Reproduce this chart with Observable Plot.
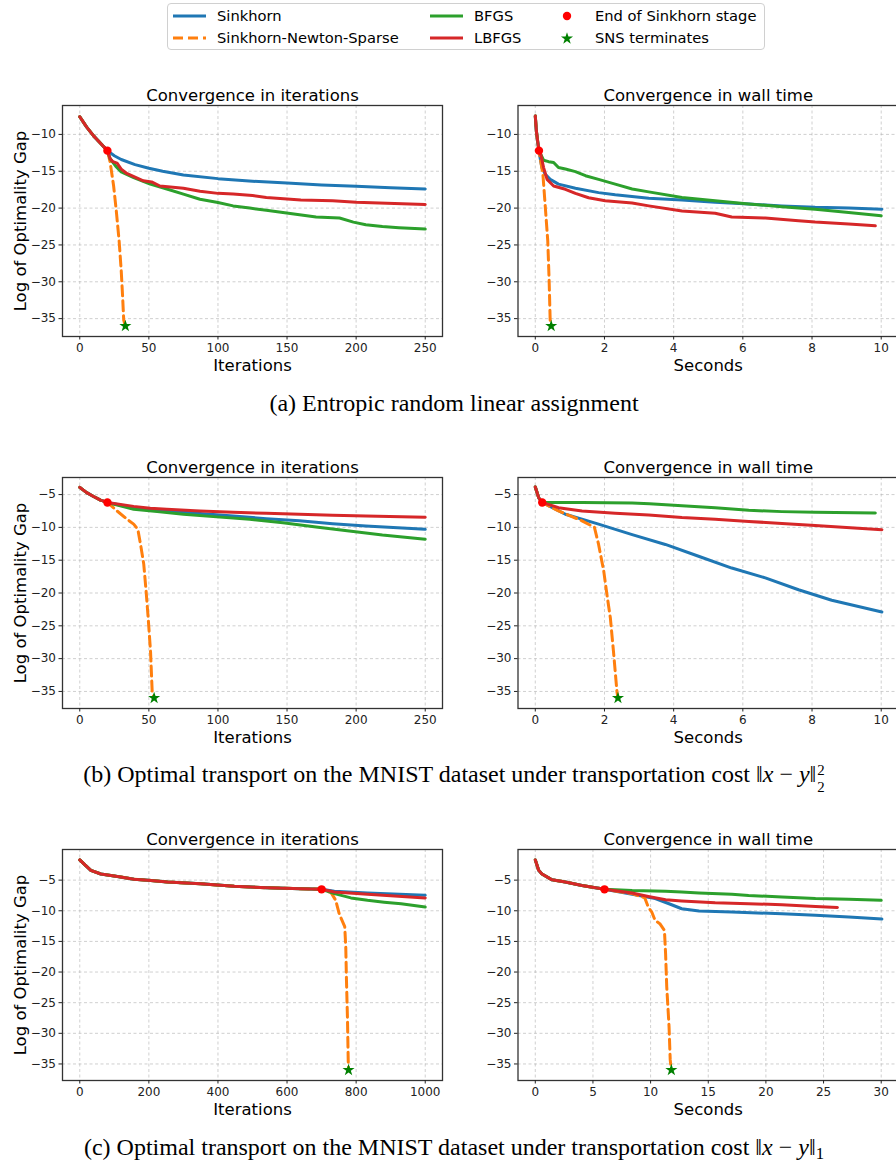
<!DOCTYPE html>
<html><head><meta charset="utf-8">
<script src="https://cdn.jsdelivr.net/npm/d3@7"></script>
<script src="https://cdn.jsdelivr.net/npm/@observablehq/plot@0.6"></script>
<style>
html,body{margin:0;padding:0;background:#fff;}
#page{position:relative;width:896px;height:1168px;overflow:hidden;background:#fff;font-family:"DejaVu Sans",sans-serif;}
.panel{position:absolute;}
.panel svg{display:block;max-width:none;}
.cap{position:absolute;left:0;width:908px;text-align:center;font-family:"Liberation Serif","Times New Roman",serif;font-size:24px;line-height:24px;color:#000;white-space:nowrap;}
.ss{display:inline-flex;flex-direction:column;font-size:0.62em;line-height:1.12;vertical-align:0.45em;margin-left:1px;}
#legendbox{position:absolute;left:167px;top:3px;width:596px;height:45px;border:1px solid #d0d0d0;border-radius:4px;background:#fff;}
.li{position:absolute;font-size:14.7px;line-height:16px;color:#000;white-space:nowrap;}
.sw{position:absolute;}
</style></head>
<body><div id="page"><div id="legendbox"></div></div>
<script>
// ---------- categories / labels ----------
const methods = ["Sinkhorn", "Sinkhorn-Newton-Sparse", "BFGS", "LBFGS"];
const markerLabels = ["End of Sinkhorn stage", "SNS terminates"];
const panelTitles = ["Convergence in iterations", "Convergence in wall time"];
const xLabels = ["Iterations", "Seconds"];
const yLabel = "Log of Optimality Gap";
const captions = [
  "(a) Entropic random linear assignment",
  "(b) Optimal transport on the MNIST dataset under transportation cost ",
  "(c) Optimal transport on the MNIST dataset under transportation cost "
];

// ---------- tick values ----------
const xTicksIter250 = [0, 50, 100, 150, 200, 250];
const xTicksTime10 = [0, 2, 4, 6, 8, 10];
const xTicksIter1000 = [0, 200, 400, 600, 800, 1000];
const xTicksTime30 = [0, 5, 10, 15, 20, 25, 30];
const yTicksA = [-10, -15, -20, -25, -30, -35];
const yTicksBC = [-5, -10, -15, -20, -25, -30, -35];

// ---------- (a) entropic random linear assignment, iterations ----------
const aIterStage = [[0,-7.6],[5,-9.0],[10,-10.2],[15,-11.2],[20,-12.2]];
const aIterSinkhorn = [[20,-12.2],[25,-12.9],[30,-13.4],[40,-14.1],[50,-14.6],[60,-15.0],[75,-15.5],[100,-16.0],[125,-16.35],[150,-16.6],[175,-16.85],[200,-17.05],[225,-17.25],[250,-17.4]];
const aIterSNS = [[20,-12.2],[22,-13.8],[24.5,-17],[26.5,-20.5],[28.5,-24.5],[30,-28.5],[31,-32],[31.8,-35.2],[33,-36]];
const aIterBFGS = [[20,-12.2],[22,-13.3],[26,-14.3],[30,-15.1],[39,-15.85],[51,-16.75],[63,-17.4],[75,-18.1],[87,-18.8],[100,-19.25],[111,-19.7],[123,-20.0],[135,-20.3],[147,-20.6],[159,-20.9],[171,-21.2],[188,-21.35],[198,-21.9],[207,-22.25],[219,-22.5],[231,-22.65],[250,-22.85]];
const aIterLBFGS = [[20,-12.2],[22,-13.3],[24,-13.7],[27,-13.9],[30,-14.7],[34,-15.3],[40,-15.8],[46,-16.3],[52,-16.45],[58,-17.0],[75,-17.3],[87,-17.7],[100,-18.0],[111,-18.1],[125,-18.3],[135,-18.55],[160,-18.9],[183,-19.0],[200,-19.2],[250,-19.5]];
const aIterEnd = [20, -12.2];
const aIterStar = [33, -36];

// ---------- (a) wall time ----------
const aTimeStage = [[0,-7.5],[0.03,-9.5],[0.07,-11.0],[0.106,-12.2]];
const aTimeSinkhorn = [[0.106,-12.2],[0.12,-12.7],[0.19,-14.5],[0.29,-15.4],[0.43,-16.1],[0.67,-16.75],[1.16,-17.3],[1.83,-17.9],[2.31,-18.2],[3.28,-18.65],[4.24,-18.9],[5.2,-19.2],[6.17,-19.45],[7.13,-19.7],[8.09,-19.9],[9.06,-20.0],[10.02,-20.15]];
const aTimeSNS = [[0.106,-12.2],[0.22,-15.4],[0.29,-19.9],[0.36,-24.4],[0.40,-29.8],[0.43,-35.2],[0.46,-36]];
const aTimeBFGS = [[0.106,-12.2],[0.24,-13.5],[0.385,-13.7],[0.53,-13.8],[0.67,-14.5],[0.87,-14.7],[1.16,-15.05],[1.45,-15.6],[1.83,-16.1],[2.31,-16.75],[2.8,-17.4],[3.28,-17.8],[4.24,-18.55],[5.2,-19.0],[6.17,-19.45],[7.13,-19.8],[8.09,-20.15],[9.06,-20.6],[10.0,-21.05]];
const aTimeLBFGS = [[0.106,-12.2],[0.14,-12.3],[0.24,-14.5],[0.34,-16.1],[0.53,-17.0],[0.87,-17.45],[1.16,-18.0],[1.54,-18.6],[2.02,-19.0],[2.8,-19.3],[3.28,-19.7],[4.24,-20.4],[5.2,-20.7],[5.68,-21.2],[6.65,-21.35],[7.61,-21.7],[8.09,-21.9],[9.06,-22.15],[9.83,-22.4]];
const aTimeEnd = [0.106, -12.2];
const aTimeStar = [0.46, -36];

// ---------- (b) MNIST L2^2, iterations ----------
const bIterStage = [[0,-3.9],[5,-4.7],[10,-5.3],[15,-5.85],[20,-6.2]];
const bIterSinkhorn = [[20,-6.2],[39,-7.0],[63,-7.5],[87,-7.9],[111,-8.26],[135,-8.67],[159,-9.0],[183,-9.43],[207,-9.8],[250,-10.3]];
const bIterSNS = [[20,-6.2],[27,-7.5],[34.3,-8.77],[39,-9.5],[42,-10.3],[44,-12.6],[46.3,-15.6],[48,-19.7],[49.5,-23.8],[51.2,-28.9],[52.4,-35.0],[53.8,-36]];
const bIterBFGS = [[20,-6.2],[39,-7.24],[56,-7.6],[75,-8.0],[99,-8.4],[123,-8.77],[147,-9.28],[171,-9.94],[195,-10.55],[219,-11.16],[250,-11.8]];
const bIterLBFGS = [[20,-6.2],[39,-6.8],[51,-7.1],[63,-7.25],[87,-7.5],[111,-7.7],[135,-7.85],[159,-8.0],[183,-8.15],[207,-8.25],[250,-8.45]];
const bIterEnd = [20, -6.2];
const bIterStar = [53.8, -36];

// ---------- (b) wall time ----------
const bTimeStage = [[0,-3.85],[0.1,-5.5],[0.2,-6.2]];
const bTimeSinkhorn = [[0.2,-6.2],[0.87,-8.0],[1.83,-9.5],[2.8,-11.1],[3.76,-12.6],[4.72,-14.4],[5.68,-16.2],[6.65,-17.7],[7.61,-19.5],[8.57,-21.1],[10.02,-22.9]];
const bTimeSNS = [[0.2,-6.2],[0.67,-7.5],[1.35,-9.0],[1.71,-10.0],[1.83,-12.6],[1.98,-16.7],[2.07,-20.2],[2.17,-23.8],[2.26,-28.9],[2.36,-35.0],[2.39,-36]];
const bTimeBFGS = [[0.2,-6.2],[1.35,-6.2],[2.8,-6.3],[3.3,-6.4],[4.24,-6.7],[5.2,-7.0],[6.17,-7.4],[7.13,-7.6],[8.09,-7.7],[9.83,-7.8]];
const bTimeLBFGS = [[0.2,-6.2],[0.67,-7.0],[1.35,-7.5],[2.31,-7.85],[3.28,-8.1],[4.24,-8.5],[5.2,-8.77],[6.17,-9.1],[7.13,-9.4],[8.09,-9.7],[10.02,-10.35]];
const bTimeEnd = [0.2, -6.2];
const bTimeStar = [2.39, -36];

// ---------- (c) MNIST L1, iterations ----------
const cIterStage = [[0,-1.7],[15,-2.5],[32,-3.4],[61,-4.0],[109,-4.4],[157,-4.84],[206,-5.05],[254,-5.3],[350,-5.6],[447,-6.0],[543,-6.25],[640,-6.4],[700,-6.5]];
const cIterSinkhorn = [[700,-6.5],[737,-6.8],[833,-7.1],[1000,-7.45]];
const cIterSNS = [[700,-6.5],[727,-7.0],[741,-8.3],[751,-10.5],[761,-11.8],[767,-12.6],[770,-15.9],[772,-21.3],[775,-27.8],[777,-34.3],[778,-36]];
const cIterBFGS = [[700,-6.5],[737,-7.2],[785,-7.9],[833,-8.3],[881,-8.6],[930,-8.85],[1000,-9.4]];
const cIterLBFGS = [[700,-6.5],[737,-6.95],[833,-7.3],[1000,-7.9]];
const cIterEnd = [700, -6.5];
const cIterStar = [778, -36];

// ---------- (c) wall time ----------
const cTimeStage = [[0,-1.7],[0.29,-3.4],[0.58,-4.0],[1.45,-4.95],[2.6,-5.3],[4.05,-5.87],[6.0,-6.5]];
const cTimeSinkhorn = [[6.0,-6.5],[8.4,-7.3],[10.4,-8.0],[11.6,-8.85],[12.7,-9.67],[14.2,-10.05],[17.05,-10.2],[21.4,-10.5],[24.3,-10.75],[27.2,-11.0],[30.06,-11.35]];
const cTimeSNS = [[6.0,-6.5],[8.4,-7.2],[9.5,-7.9],[9.8,-9.4],[10.1,-10.2],[10.4,-11.6],[10.8,-12.1],[11.2,-13.2],[11.3,-17.0],[11.4,-22.4],[11.6,-28.9],[11.7,-34.3],[11.8,-36]];
const cTimeBFGS = [[6.0,-6.5],[8.4,-6.7],[11.3,-6.8],[12.7,-6.95],[14.2,-7.1],[17.05,-7.3],[18.5,-7.5],[21.4,-7.77],[24.3,-8.0],[27.2,-8.1],[30,-8.3]];
const cTimeLBFGS = [[6.0,-6.5],[8.4,-7.1],[9.8,-7.66],[11.3,-8.2],[12.7,-8.4],[15.6,-8.7],[18.5,-8.85],[21.4,-9.0],[24.3,-9.3],[26.2,-9.45]];
const cTimeEnd = [6.0, -6.5];
const cTimeStar = [11.8, -36];

// ---------- styling ----------
const colors = ["#1f77b4", "#ff7f0e", "#2ca02c", "#d62728"];
const dash = "10,5";
const fmt = d => d < 0 ? "\u2212" + Math.abs(d) : String(d);
const page = document.getElementById("page");

function panel(p) {
  const series = [p.sinkhorn, p.sns, p.bfgs, p.lbfgs];
  const gridStyle = {stroke: "#b0b0b0", strokeOpacity: 0.75, strokeDasharray: "3,2.5", strokeWidth: 0.8};
  const marks = [
    Plot.gridX({ticks: p.xTicks, ...gridStyle}),
    Plot.gridY({ticks: p.yTicks, ...gridStyle}),
    ...series.map((s, i) => Plot.line(p.stage.concat(s), {
      x: d => d[0], y: d => d[1], stroke: colors[i], strokeWidth: 3,
      strokeLinejoin: "round", strokeDasharray: i === 1 ? dash : null
    })),
    Plot.dot([p.end], {x: d => d[0], y: d => d[1], r: 4.2, fill: "red"}),
    Plot.dot([p.star], {x: d => d[0], y: d => d[1], r: 3.8, symbol: "star", fill: "green"}),
    Plot.frame({stroke: "#333", strokeWidth: 1.3}),
    Plot.axisX({ticks: p.xTicks, tickFormat: fmt, tickSize: 3.5, tickPadding: 3, fontSize: 12, label: null}),
    Plot.axisY({ticks: p.yTicks, tickFormat: fmt, tickSize: 3.5, tickPadding: 3, fontSize: 12, label: null}),
    Plot.text([p.title], {text: d => d, frameAnchor: "top", lineAnchor: "bottom", dy: -4.6, fontSize: 16.5, fill: "#000"}),
    Plot.text([p.xLabel], {text: d => d, frameAnchor: "bottom", lineAnchor: "bottom", dy: 34, fontSize: 16.5, fill: "#000"})
  ];
  if (p.yLabel) marks.push(Plot.text([p.yLabel], {text: d => d, frameAnchor: "left", textAnchor: "middle", lineAnchor: "bottom", rotate: -90, dx: -36.7, fontSize: 16.5, fill: "#000"}));
  const svg = Plot.plot({
    width: p.width, height: 311,
    marginLeft: p.marginLeft, marginRight: p.marginRight, marginTop: 35, marginBottom: 45,
    x: {domain: p.xDomain}, y: {domain: p.yDomain},
    style: {fontFamily: "DejaVu Sans", fontSize: "12px", color: "#222", background: "transparent", maxWidth: "none"},
    marks
  });
  const div = document.createElement("div");
  div.className = "panel";
  div.style.left = p.left + "px";
  div.style.top = (p.frameTop - 35) + "px";
  div.appendChild(svg);
  page.appendChild(div);
}

const rows = [
  {frameTop: 105.3, yDomain: [-37.425, -6.075], yTicks: yTicksA,
   iter: {xDomain: [-12.5, 262.5], xTicks: xTicksIter250, stage: aIterStage, sinkhorn: aIterSinkhorn, sns: aIterSNS, bfgs: aIterBFGS, lbfgs: aIterLBFGS, end: aIterEnd, star: aIterStar},
   time: {xDomain: [-0.5, 10.5], xTicks: xTicksTime10, stage: aTimeStage, sinkhorn: aTimeSinkhorn, sns: aTimeSNS, bfgs: aTimeBFGS, lbfgs: aTimeLBFGS, end: aTimeEnd, star: aTimeStar}},
  {frameTop: 476.7, yDomain: [-37.6, -2.4], yTicks: yTicksBC,
   iter: {xDomain: [-12.5, 262.5], xTicks: xTicksIter250, stage: bIterStage, sinkhorn: bIterSinkhorn, sns: bIterSNS, bfgs: bIterBFGS, lbfgs: bIterLBFGS, end: bIterEnd, star: bIterStar},
   time: {xDomain: [-0.5, 10.5], xTicks: xTicksTime10, stage: bTimeStage, sinkhorn: bTimeSinkhorn, sns: bTimeSNS, bfgs: bTimeBFGS, lbfgs: bTimeLBFGS, end: bTimeEnd, star: bTimeStar}},
  {frameTop: 849.3, yDomain: [-37.7, 0], yTicks: yTicksBC,
   iter: {xDomain: [-50, 1050], xTicks: xTicksIter1000, stage: cIterStage, sinkhorn: cIterSinkhorn, sns: cIterSNS, bfgs: cIterBFGS, lbfgs: cIterLBFGS, end: cIterEnd, star: cIterStar},
   time: {xDomain: [-1.5, 31.5], xTicks: xTicksTime30, stage: cTimeStage, sinkhorn: cTimeSinkhorn, sns: cTimeSNS, bfgs: cTimeBFGS, lbfgs: cTimeLBFGS, end: cTimeEnd, star: cTimeStar}}
];

rows.forEach((r, k) => {
  panel({...r.iter, frameTop: r.frameTop, yDomain: r.yDomain, yTicks: r.yTicks,
    title: panelTitles[0], xLabel: xLabels[0], yLabel: yLabel,
    left: 0, width: 448, marginLeft: 62, marginRight: 6});
  panel({...r.time, frameTop: r.frameTop, yDomain: r.yDomain, yTicks: r.yTicks,
    title: panelTitles[1], xLabel: xLabels[1], yLabel: null,
    left: 448, width: 460, marginLeft: 69.5, marginRight: 10});
  const cap = document.createElement("div");
  cap.className = "cap";
  cap.style.top = (r.frameTop + 230.7 + 74.7 - 20.1) + "px";
  cap.textContent = captions[k];
  if (k === 1) {
    cap.insertAdjacentHTML("beforeend", "\u2016<i>x</i> \u2212 <i>y</i>\u2016<span class=\"ss\"><span>2</span><span>2</span></span>");
  } else if (k === 2) {
    cap.insertAdjacentHTML("beforeend", "\u2016<i>x</i> \u2212 <i>y</i>\u2016<span style=\"font-size:0.7em;vertical-align:-0.25em\">1</span>");
  }
  page.appendChild(cap);
});

// ---------- legend ----------
const legendEntries = [
  {label: methods[0], kind: "line", color: colors[0], x: 173, tx: 217, cy: 15.5},
  {label: methods[1], kind: "dash", color: colors[1], x: 173, tx: 217, cy: 37.5},
  {label: methods[2], kind: "line", color: colors[2], x: 430, tx: 474, cy: 15.5},
  {label: methods[3], kind: "line", color: colors[3], x: 430, tx: 474, cy: 37.5},
  {label: markerLabels[0], kind: "dot", color: "red", x: 559, tx: 595, cy: 15.5},
  {label: markerLabels[1], kind: "star", color: "green", x: 559, tx: 595, cy: 37.5}
];
legendEntries.forEach(e => {
  const sw = document.createElementNS("http://www.w3.org/2000/svg", "svg");
  sw.setAttribute("class", "sw");
  sw.setAttribute("width", 33); sw.setAttribute("height", 16);
  sw.style.left = e.x + "px"; sw.style.top = (e.cy - 8) + "px";
  if (e.kind === "line" || e.kind === "dash") {
    sw.innerHTML = `<line x1="0" y1="8" x2="33" y2="8" stroke="${e.color}" stroke-width="3"${e.kind === "dash" ? ` stroke-dasharray="${dash}"` : ""}/>`;
  } else if (e.kind === "dot") {
    sw.innerHTML = `<circle cx="8" cy="8" r="4.2" fill="${e.color}"/>`;
  } else {
    const star = d3.symbol(d3.symbolStar, Math.PI * 3.8 * 3.8)();
    sw.innerHTML = `<path transform="translate(8,8.5)" d="${star}" fill="${e.color}"/>`;
  }
  page.appendChild(sw);
  const t = document.createElement("div");
  t.className = "li";
  t.style.left = e.tx + "px";
  t.style.top = (e.cy - 8) + "px";
  t.textContent = e.label;
  page.appendChild(t);
});
</script>
</body></html>
